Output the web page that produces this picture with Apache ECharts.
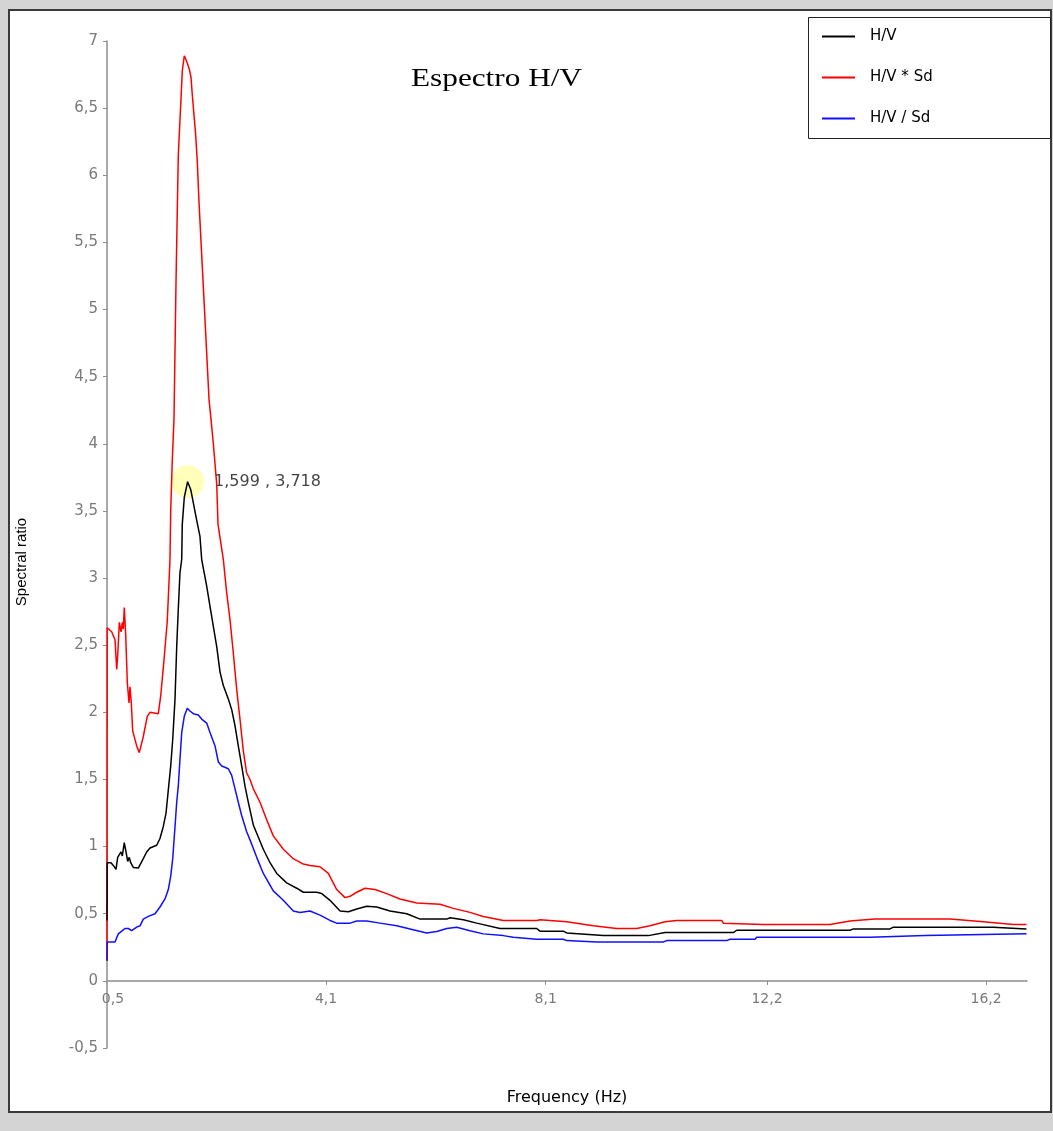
<!DOCTYPE html>
<html>
<head>
<meta charset="utf-8">
<script src="https://cdn.jsdelivr.net/npm/echarts@6/dist/echarts.min.js"></script>
<style>
  html, body { margin: 0; padding: 0; background: #d4d4d4; }
  #chart { width: 1053px; height: 1131px; }
</style>
</head>
<body>
<div id="chart"></div>
<script>
// ---- data: [frequency (Hz), spectral ratio] ----
const hv = [
  [0.12,0.45],[0.124,0.88],[0.144,0.88],[0.193,0.88],[0.236,0.86],[0.285,0.83],[0.316,0.92],[0.346,0.94],
  [0.377,0.96],[0.401,0.93],[0.437,1.03],[0.469,0.96],[0.500,0.89],[0.529,0.92],[0.555,0.88],[0.603,0.845],
  [0.694,0.84],[0.726,0.83],[0.786,0.91],[0.848,0.96],[0.909,0.99],[1.032,1.01],[1.092,1.06],[1.153,1.15],
  [1.203,1.25],[1.252,1.45],[1.289,1.60],[1.326,1.80],[1.368,2.10],[1.399,2.49],[1.428,2.77],[1.459,3.04],
  [1.491,3.14],[1.501,3.40],[1.538,3.60],[1.599,3.718],[1.656,3.66],[1.704,3.56],[1.766,3.43],[1.826,3.31],
  [1.857,3.14],[1.949,2.94],[2.010,2.79],[2.071,2.64],[2.133,2.49],[2.194,2.30],[2.254,2.20],[2.346,2.10],
  [2.408,2.02],[2.469,1.90],[2.529,1.75],[2.592,1.60],[2.652,1.45],[2.713,1.33],[2.805,1.16],[2.867,1.10],
  [2.988,0.98],[3.111,0.88],[3.234,0.80],[3.417,0.73],[3.601,0.69],[3.722,0.66],[3.968,0.66],[4.060,0.65],
  [4.212,0.60],[4.396,0.52],[4.548,0.515],[4.702,0.535],[4.885,0.555],[5.069,0.55],[5.313,0.52],[5.620,0.50],
  [5.864,0.46],[6.354,0.46],[6.414,0.47],[6.658,0.455],[6.904,0.43],[7.331,0.39],[8.004,0.39],[8.065,0.37],
  [8.492,0.37],[8.555,0.357],[9.226,0.337],[10.052,0.337],[10.359,0.36],[11.612,0.36],[11.674,0.377],
  [13.753,0.377],[13.813,0.387],[14.487,0.387],[14.547,0.40],[16.382,0.40],[16.413,0.387],[16.99,0.387]
];
const hvTimesSd = [
  [0.12,0.15],[0.124,2.63],[0.144,2.63],[0.206,2.60],[0.267,2.54],[0.298,2.32],[0.316,2.42],[0.346,2.67],
  [0.377,2.60],[0.401,2.67],[0.419,2.62],[0.437,2.78],[0.463,2.58],[0.493,2.22],[0.524,2.07],[0.542,2.19],
  [0.566,2.07],[0.592,1.86],[0.665,1.75],[0.713,1.70],[0.786,1.82],[0.859,1.97],[0.909,2.00],[1.061,1.99],
  [1.105,2.12],[1.166,2.39],[1.226,2.68],[1.276,3.14],[1.289,3.50],[1.318,3.88],[1.349,4.18],[1.386,5.20],
  [1.428,6.15],[1.472,6.52],[1.502,6.78],[1.538,6.89],[1.570,6.86],[1.597,6.83],[1.630,6.79],[1.661,6.73],
  [1.685,6.60],[1.716,6.45],[1.747,6.30],[1.777,6.10],[1.808,5.80],[1.900,5.07],[1.992,4.33],[2.029,4.18],
  [2.071,4.00],[2.133,3.70],[2.157,3.40],[2.254,3.14],[2.316,2.89],[2.377,2.69],[2.438,2.44],[2.500,2.17],
  [2.560,1.95],[2.619,1.72],[2.681,1.55],[2.744,1.50],[2.805,1.43],[2.927,1.33],[3.050,1.20],[3.171,1.08],
  [3.355,0.98],[3.538,0.91],[3.722,0.87],[3.845,0.86],[4.028,0.85],[4.181,0.80],[4.335,0.68],[4.487,0.62],
  [4.579,0.63],[4.702,0.66],[4.854,0.69],[5.037,0.68],[5.252,0.65],[5.496,0.61],[5.803,0.58],[6.230,0.57],
  [6.474,0.54],[6.780,0.51],[7.024,0.48],[7.391,0.45],[8.004,0.45],[8.065,0.455],[8.555,0.44],[9.043,0.41],
  [9.472,0.39],[9.839,0.39],[10.083,0.41],[10.359,0.44],[10.573,0.45],[11.399,0.45],[11.428,0.43],
  [12.162,0.42],[13.386,0.42],[13.753,0.446],[14.211,0.46],[15.588,0.46],[15.619,0.446],[16.199,0.44],
  [16.231,0.43],[16.752,0.42],[16.99,0.42]
];
const hvOverSd = [
  [0.12,0.15],[0.124,0.29],[0.267,0.29],[0.327,0.35],[0.390,0.37],[0.450,0.39],[0.511,0.39],[0.573,0.374],
  [0.665,0.40],[0.726,0.41],[0.786,0.46],[0.878,0.48],[1.001,0.50],[1.092,0.55],[1.184,0.61],[1.245,0.68],
  [1.289,0.78],[1.326,0.91],[1.368,1.15],[1.399,1.33],[1.428,1.45],[1.459,1.65],[1.491,1.85],[1.538,1.97],
  [1.593,2.03],[1.643,2.01],[1.704,1.99],[1.795,1.98],[1.857,1.95],[1.949,1.92],[2.010,1.85],[2.102,1.75],
  [2.163,1.63],[2.225,1.60],[2.346,1.58],[2.408,1.53],[2.469,1.43],[2.529,1.33],[2.592,1.23],[2.683,1.11],
  [2.744,1.05],[2.867,0.92],[2.988,0.80],[3.171,0.67],[3.355,0.60],[3.538,0.52],[3.661,0.51],[3.845,0.52],
  [4.028,0.49],[4.212,0.45],[4.335,0.43],[4.579,0.43],[4.702,0.446],[4.885,0.446],[5.130,0.43],[5.436,0.41],
  [5.680,0.387],[5.986,0.357],[6.170,0.367],[6.354,0.39],[6.537,0.40],[6.780,0.374],[7.024,0.35],
  [7.391,0.337],[7.575,0.325],[8.004,0.31],[8.492,0.31],[8.555,0.30],[9.105,0.29],[10.327,0.29],
  [10.389,0.30],[11.490,0.30],[11.551,0.31],[12.010,0.31],[12.041,0.325],[14.123,0.325],[14.154,0.337],
  [15.129,0.337],[15.161,0.35],[16.99,0.35]
];
const seriesNames = ['H/V', 'H/V * Sd', 'H/V / Sd'];
const peakPoint = [1.599, 3.718];
const xTickValues = [0.23, 4.14, 8.17, 12.23, 16.25];
const xTickLabels = ['0,5', '4,1', '8,1', '12,2', '16,2'];
const titleText = 'Espectro H/V';
const xAxisName = 'Frequency (Hz)';
const yAxisName = 'Spectral ratio';

const comma = v => String(v).replace('.', ',');
const axisGray = '#8c8c8c';

const chart = echarts.init(document.getElementById('chart'), null, { renderer: 'canvas' });
chart.setOption({
  animation: false,
  backgroundColor: '#d4d4d4',
  graphic: [
    { type: 'rect', z: -10, shape: { x: 9, y: 10, width: 1042, height: 1102 },
      style: { fill: '#ffffff', stroke: '#3a3a3a', lineWidth: 2 } },
    { type: 'rect', z: 5, shape: { x: 808.5, y: 17.5, width: 242, height: 121 },
      style: { fill: '#ffffff', stroke: '#222', lineWidth: 1 } },
    { type: 'text', z: 6, x: 411, y: 79, scaleX: 1.25,
      style: { text: titleText, font: '25px "Liberation Serif", "Times New Roman", serif',
               fill: '#000', align: 'left', verticalAlign: 'middle' } },
    { type: 'text', z: 6, x: 22, y: 562, rotation: Math.PI / 2,
      style: { text: yAxisName, font: '15px "Liberation Sans", Arial, sans-serif',
               fill: '#000', align: 'center', verticalAlign: 'middle' } }
  ],
  legend: {
    z: 10,
    left: 817, top: 24, orient: 'vertical',
    icon: 'rect', itemWidth: 33, itemHeight: 2, itemGap: 26,
    selectedMode: false,
    data: seriesNames,
    textStyle: { fontFamily: 'DejaVu Sans', fontSize: 15, lineHeight: 15, color: '#000', padding: [0, 0, 0, 10] }
  },
  grid: { left: 107, right: 26, top: 41, bottom: 83, containLabel: false, outerBoundsMode: 'none' },
  xAxis: {
    type: 'value', min: 0.12, max: 17.0,
    name: xAxisName, nameLocation: 'middle', nameGap: 42,
    nameTextStyle: { fontFamily: 'DejaVu Sans', fontSize: 16, color: '#000' },
    axisLine: { onZero: true, lineStyle: { color: axisGray, width: 1.5 } },
    axisTick: { show: true, length: 4, lineStyle: { color: axisGray }, customValues: xTickValues.slice(1) },
    axisLabel: {
      customValues: xTickValues, margin: -56,
      fontFamily: 'DejaVu Sans', fontSize: 14, color: '#7a7a7a',
      formatter: v => xTickLabels[xTickValues.indexOf(v)] ?? ''
    },
    splitLine: { show: false }
  },
  yAxis: {
    type: 'value', min: -0.5, max: 7, interval: 0.5,
    axisLine: { show: true, lineStyle: { color: axisGray, width: 1.5 } },
    axisTick: { show: true, length: 4, lineStyle: { color: axisGray } },
    axisLabel: { margin: 9, fontFamily: 'DejaVu Sans', fontSize: 15, color: '#7a7a7a', formatter: v => comma(v) },
    splitLine: { show: false }
  },
  series: [
    { name: seriesNames[0], type: 'line', data: hv, symbol: 'none', z: 4,
      lineStyle: { color: '#000000', width: 1.5 }, itemStyle: { color: '#000000' } },
    { name: seriesNames[1], type: 'line', data: hvTimesSd, symbol: 'none', z: 3,
      lineStyle: { color: '#ff0000', width: 1.5 }, itemStyle: { color: '#ff0000' } },
    { name: seriesNames[2], type: 'line', data: hvOverSd, symbol: 'none', z: 3,
      lineStyle: { color: '#1010ff', width: 1.5 }, itemStyle: { color: '#1010ff' } },
    { name: 'peak', type: 'scatter', data: [peakPoint], z: 1, silent: true,
      symbolSize: 33, itemStyle: { color: 'rgba(255,255,130,0.7)' },
      label: { show: true, position: 'right', distance: 10,
               fontFamily: 'DejaVu Sans', fontSize: 16, color: '#111',
               formatter: p => comma(p.value[0]) + ' , ' + comma(p.value[1]) } }
  ]
});
</script>
</body>
</html>
